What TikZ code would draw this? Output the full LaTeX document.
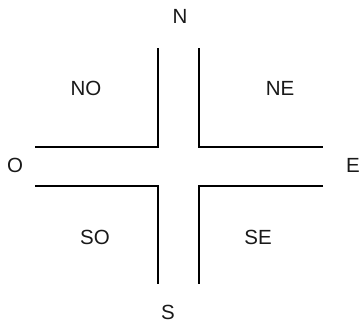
\documentclass[tikz,border=0pt]{standalone}
\usepackage{fontspec}
\setmainfont{Liberation Sans}
\usetikzlibrary{positioning}
\tikzset{
  wall/.style={line width=2.2pt, black},
  lbl/.style={font=\fontsize{20.5}{20.5}\selectfont, black!90, inner sep=0pt}
}
\begin{document}
\begin{tikzpicture}[x=1pt, y=-1pt]
  \useasboundingbox (0,0) rectangle (361,324);

  % Compass points
  \node[lbl] (nord) at (180,16) {N};
  \node[lbl] (sud) at (168,312) {S};
  \node[lbl] (ouest) at (15,165) {O};
  \node[lbl] (est) at (353,165) {E};

  % Quarters
  \node[lbl] (no) at (86,88) {NO};
  \node[lbl] (ne) at (280,88) {NE};
  \node[lbl] (so) at (95,237) {SO};
  \node[lbl] (se) at (258,237) {SE};

  % Road edges
  \draw[wall] (158,48) -- (158,147) -- (35,147);
  \draw[wall] (199,48) -- (199,147) -- (323,147);
  \draw[wall] (35,186) -- (158,186) -- (158,284);
  \draw[wall] (323,186) -- (199,186) -- (199,284);
\end{tikzpicture}
\end{document}
